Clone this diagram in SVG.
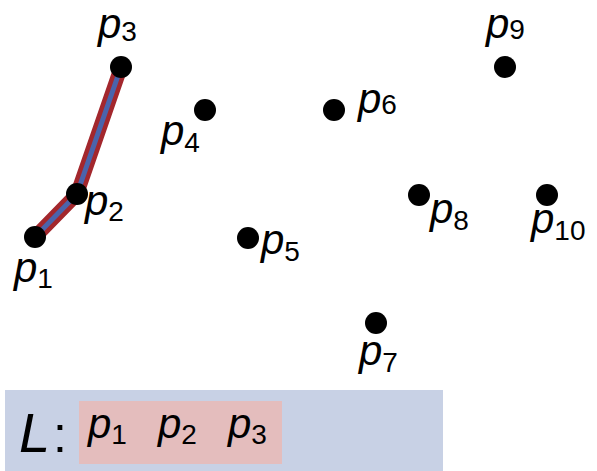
<svg xmlns="http://www.w3.org/2000/svg" width="597" height="471" viewBox="0 0 597 471">
<style>
.lbl{font-family:"Liberation Sans",Arial,sans-serif;font-style:italic;font-size:42px;fill:#000}
.sub{font-style:normal;font-size:28px}
.dot{fill:#000}
</style>
<rect width="597" height="471" fill="#fff"/>
<g id="connectors">
<polyline points="35,237 77,194 121,67" fill="none" stroke="#a3272d" stroke-width="14" stroke-linejoin="round"/>
<polyline points="35,237 77,194 121,67" fill="none" stroke="#4a64ac" stroke-width="5" stroke-linejoin="round"/>
</g>
<g id="p1"><circle class="dot" cx="35" cy="237" r="11"/><text class="lbl" x="14" y="282">p<tspan class="sub" dy="6">1</tspan></text></g>
<g id="p2"><circle class="dot" cx="77" cy="194" r="11"/><text class="lbl" x="85" y="215">p<tspan class="sub" dy="6">2</tspan></text></g>
<g id="p3"><circle class="dot" cx="121" cy="67" r="11"/><text class="lbl" x="98" y="38">p<tspan class="sub" dy="3">3</tspan></text></g>
<g id="p4"><circle class="dot" cx="205" cy="110" r="11"/><text class="lbl" x="161" y="145">p<tspan class="sub" dy="7">4</tspan></text></g>
<g id="p5"><circle class="dot" cx="248" cy="238" r="11"/><text class="lbl" x="261" y="254">p<tspan class="sub" dy="7">5</tspan></text></g>
<g id="p6"><circle class="dot" cx="334" cy="110" r="11"/><text class="lbl" x="358" y="113">p<tspan class="sub" dy="1">6</tspan></text></g>
<g id="p7"><circle class="dot" cx="376" cy="323" r="11"/><text class="lbl" x="359" y="365">p<tspan class="sub" dy="7">7</tspan></text></g>
<g id="p8"><circle class="dot" cx="419" cy="195" r="11"/><text class="lbl" x="430" y="223">p<tspan class="sub" dy="7">8</tspan></text></g>
<g id="p9"><circle class="dot" cx="505" cy="67" r="11"/><text class="lbl" x="486" y="38">p<tspan class="sub" dy="1">9</tspan></text></g>
<g id="p10"><circle class="dot" cx="547" cy="195" r="11"/><text class="lbl" x="531" y="233">p<tspan class="sub" dy="7">10</tspan></text></g>
<g id="list">
<rect x="5" y="390" width="438" height="81" fill="#c8d1e5"/>
<rect x="79" y="401" width="203" height="63" fill="#e4bdbd"/>
<text class="lbl" x="19" y="452" style="font-size:56px">L</text>
<text class="lbl" x="53" y="452" style="font-style:normal;font-size:50px">:</text>
<text class="lbl" x="88" y="438">p<tspan class="sub" dy="6">1</tspan></text>
<text class="lbl" x="158" y="438">p<tspan class="sub" dy="6">2</tspan></text>
<text class="lbl" x="228" y="438">p<tspan class="sub" dy="6">3</tspan></text>
</g>
</svg>
